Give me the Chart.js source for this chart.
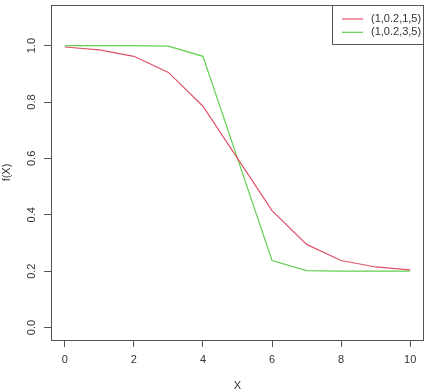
<!DOCTYPE html>
<html>
<head>
<meta charset="utf-8">
<script src="https://cdn.jsdelivr.net/npm/chart.js@4"></script>
<style>
html, body { margin: 0; padding: 0; background: #fff; }
</style>
</head>
<body>
<canvas id="curveChart" width="430" height="389"></canvas>
<script>
// values
const xValues = [0, 1, 2, 3, 4, 5, 6, 7, 8, 9, 10];
const redValues = [0.995, 0.985, 0.962, 0.905, 0.785, 0.600, 0.415, 0.295, 0.238, 0.215, 0.205];
const greenValues = [1.000, 1.000, 1.000, 0.998, 0.962, 0.600, 0.238, 0.202, 0.200, 0.200, 0.200];
const seriesLabels = ['(1,0.2,1,5)', '(1,0.2,3,5)'];
const xTicks = [0, 2, 4, 6, 8, 10];
const xTickLabels = ['0', '2', '4', '6', '8', '10'];
const yTicks = [0, 0.2, 0.4, 0.6, 0.8, 1.0];
const yTickLabels = ['0.0', '0.2', '0.4', '0.6', '0.8', '1.0'];

const axisColor = '#555';
const textColor = '#333';
const font = '11px "Liberation Sans", Arial, sans-serif';

const rFrame = {
    id: 'rFrame',
    afterDraw(chart) {
        const { ctx, chartArea: a, scales } = chart;
        ctx.save();
        ctx.strokeStyle = axisColor;
        ctx.lineWidth = 1;
        ctx.strokeRect(Math.round(a.left) + 0.5, Math.round(a.top) + 0.5,
            Math.round(a.right - a.left) - 1, Math.round(a.bottom - a.top));

        ctx.fillStyle = textColor;
        ctx.font = font;
        ctx.textAlign = 'center';
        ctx.textBaseline = 'middle';
        xTicks.forEach((v, i) => {
            ctx.fillText(xTickLabels[i], scales.x.getPixelForValue(v), 360);
        });
        yTicks.forEach((v, i) => {
            ctx.save();
            ctx.translate(32, scales.y.getPixelForValue(v));
            ctx.rotate(-Math.PI / 2);
            ctx.fillText(yTickLabels[i], 0, 0);
            ctx.restore();
        });

        // axis titles
        ctx.fillText('X', (a.left + a.right) / 2, 386);
        ctx.save();
        ctx.translate(7, (a.top + a.bottom) / 2);
        ctx.rotate(-Math.PI / 2);
        ctx.fillText('f(X)', 0, 0);
        ctx.restore();

        // legend box in the top right corner
        const lx = 332, ly = Math.round(a.top), lw = Math.round(a.right) - 332, lh = 39;
        ctx.fillStyle = '#fff';
        ctx.fillRect(lx, ly, lw, lh);
        ctx.strokeStyle = axisColor;
        ctx.strokeRect(lx + 0.5, ly + 0.5, lw - 1, lh);
        ctx.textAlign = 'left';
        chart.data.datasets.forEach((ds, i) => {
            const y = ly + 14 + i * 13.3;
            ctx.strokeStyle = ds.borderColor;
            ctx.lineWidth = 1.2;
            ctx.beginPath();
            ctx.moveTo(342, y);
            ctx.lineTo(363, y);
            ctx.stroke();
            ctx.fillStyle = textColor;
            ctx.fillText(ds.label, 371, y);
        });
        ctx.restore();
    }
};

new Chart(document.getElementById('curveChart'), {
    type: 'line',
    data: {
        datasets: [
            {
                label: seriesLabels[0],
                data: xValues.map((x, i) => ({ x: x, y: redValues[i] })),
                borderColor: '#DF536B',
                borderWidth: 1.2,
                pointRadius: 0,
                tension: 0,
                fill: false
            },
            {
                label: seriesLabels[1],
                data: xValues.map((x, i) => ({ x: x, y: greenValues[i] })),
                borderColor: '#61D04F',
                borderWidth: 1.2,
                pointRadius: 0,
                tension: 0,
                fill: false
            }
        ]
    },
    options: {
        responsive: false,
        animation: false,
        devicePixelRatio: 1,
        layout: { padding: { top: 5, right: 6, left: 0, bottom: 0 } },
        plugins: {
            legend: { display: false },
            tooltip: { enabled: false }
        },
        scales: {
            x: {
                type: 'linear',
                min: -0.4,
                max: 10.4,
                afterBuildTicks: s => { s.ticks = xTicks.map(v => ({ value: v })); },
                afterFit: s => { s.height = 49; },
                grid: { display: true, drawOnChartArea: false, drawTicks: true, tickLength: 7, tickColor: axisColor },
                border: { display: false },
                ticks: { display: false }
            },
            y: {
                type: 'linear',
                min: -0.044,
                max: 1.144,
                afterBuildTicks: s => { s.ticks = yTicks.map(v => ({ value: v })); },
                afterFit: s => { s.width = 51; },
                grid: { display: true, drawOnChartArea: false, drawTicks: true, tickLength: 7, tickColor: axisColor },
                border: { display: false },
                ticks: { display: false }
            }
        }
    },
    plugins: [rFrame]
});
</script>
</body>
</html>
